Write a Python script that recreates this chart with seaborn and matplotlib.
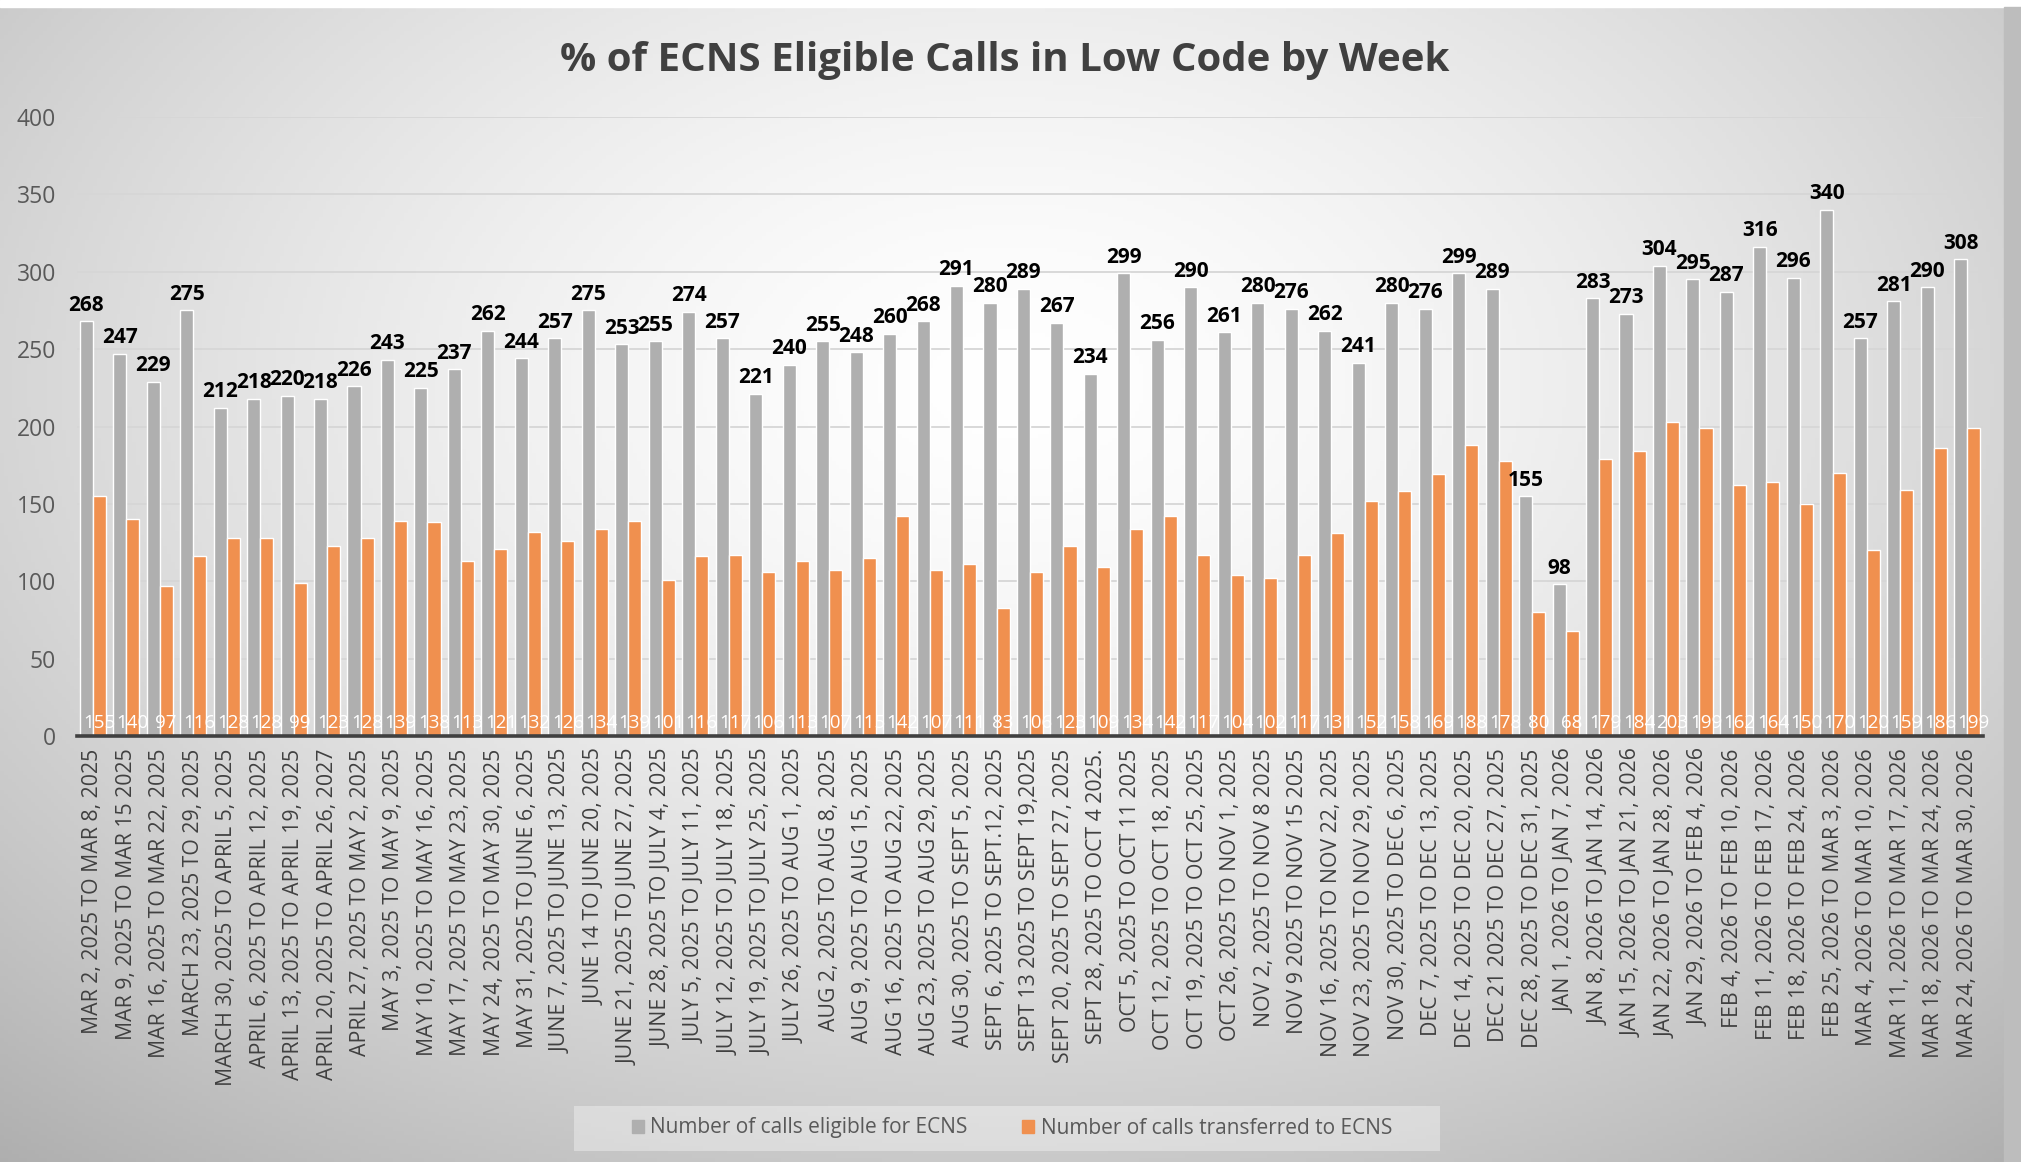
import numpy as np
import pandas as pd
import matplotlib
matplotlib.use("Agg")
import matplotlib.pyplot as plt
import seaborn as sns

weeks = [
    "MAR 2, 2025 TO MAR 8, 2025",
    "MAR 9, 2025 TO MAR 15 2025",
    "MAR 16, 2025 TO MAR 22, 2025",
    "MARCH 23, 2025 TO 29, 2025",
    "MARCH 30, 2025 TO APRIL 5, 2025",
    "APRIL 6, 2025 TO APRIL 12, 2025",
    "APRIL 13, 2025 TO APRIL 19, 2025",
    "APRIL 20, 2025 TO APRIL 26, 2027",
    "APRIL 27, 2025 TO MAY 2, 2025",
    "MAY 3, 2025 TO MAY 9, 2025",
    "MAY 10, 2025 TO MAY 16, 2025",
    "MAY 17, 2025 TO MAY 23, 2025",
    "MAY 24, 2025 TO MAY 30, 2025",
    "MAY 31, 2025 TO JUNE 6, 2025",
    "JUNE 7, 2025 TO JUNE 13, 2025",
    "JUNE 14 TO JUNE 20, 2025",
    "JUNE 21, 2025 TO JUNE 27, 2025",
    "JUNE 28, 2025 TO JULY 4, 2025",
    "JULY 5, 2025 TO JULY 11, 2025",
    "JULY 12, 2025 TO JULY 18, 2025",
    "JULY 19, 2025 TO JULY 25, 2025",
    "JULY 26, 2025 TO AUG 1, 2025",
    "AUG 2, 2025 TO AUG 8, 2025",
    "AUG 9, 2025 TO AUG 15, 2025",
    "AUG 16, 2025 TO AUG 22, 2025",
    "AUG 23, 2025 TO AUG 29, 2025",
    "AUG 30, 2025 TO SEPT 5, 2025",
    "SEPT 6, 2025 TO SEPT.12, 2025",
    "SEPT 13 2025 TO SEPT 19,2025",
    "SEPT 20, 2025 TO SEPT 27, 2025",
    "SEPT 28, 2025 TO OCT 4 2025.",
    "OCT 5, 2025 TO OCT 11 2025",
    "OCT 12, 2025 TO OCT 18, 2025",
    "OCT 19, 2025 TO OCT 25, 2025",
    "OCT 26, 2025 TO NOV 1, 2025",
    "NOV 2, 2025 TO NOV 8 2025",
    "NOV 9 2025 TO NOV 15 2025",
    "NOV 16, 2025 TO NOV 22, 2025",
    "NOV 23, 2025 TO NOV 29, 2025",
    "NOV 30, 2025 TO DEC 6, 2025",
    "DEC 7, 2025 TO DEC 13, 2025",
    "DEC 14, 2025 TO DEC 20, 2025",
    "DEC 21 2025 TO DEC 27, 2025",
    "DEC 28, 2025 TO DEC 31, 2025",
    "JAN 1, 2026 TO JAN 7, 2026",
    "JAN 8, 2026 TO JAN 14, 2026",
    "JAN 15, 2026 TO JAN 21, 2026",
    "JAN 22, 2026 TO JAN 28, 2026",
    "JAN 29, 2026 TO FEB 4, 2026",
    "FEB 4, 2026 TO FEB 10, 2026",
    "FEB 11, 2026 TO FEB 17, 2026",
    "FEB 18, 2026 TO FEB 24, 2026",
    "FEB 25, 2026 TO MAR 3, 2026",
    "MAR 4, 2026 TO MAR 10, 2026",
    "MAR 11, 2026 TO MAR 17, 2026",
    "MAR 18, 2026 TO MAR 24, 2026",
    "MAR 24, 2026 TO MAR 30, 2026",
]

eligible = [268, 247, 229, 275, 212, 218, 220, 218, 226, 243, 225, 237, 262, 244,
            257, 275, 253, 255, 274, 257, 221, 240, 255, 248, 260, 268, 291, 280,
            289, 267, 234, 299, 256, 290, 261, 280, 276, 262, 241, 280, 276, 299,
            289, 155, 98, 283, 273, 304, 295, 287, 316, 296, 340, 257, 281, 290, 308]

transferred = [155, 140, 97, 116, 128, 128, 99, 123, 128, 139, 138, 113, 121, 132,
               126, 134, 139, 101, 116, 117, 106, 113, 107, 115, 142, 107, 111, 83,
               106, 123, 109, 134, 142, 117, 104, 102, 117, 131, 152, 158, 169, 188,
               178, 80, 68, 179, 184, 203, 199, 162, 164, 150, 170, 120, 159, 186, 199]

series_names = ["Number of calls eligible for ECNS", "Number of calls transferred to ECNS"]
colors = ["#AFAFAF", "#F0904F"]
title = "% of ECNS Eligible Calls in Low Code by Week"

df = pd.DataFrame({
    "week": weeks * 2,
    "series": [series_names[0]] * len(weeks) + [series_names[1]] * len(weeks),
    "value": eligible + transferred,
})

sns.set_theme(style="white")
plt.rcParams["font.family"] = ["Open Sans", "DejaVu Sans"]

W, H = 2021, 1162
fig = plt.figure(figsize=(W / 100, H / 100), dpi=100)

# background radial gradient
bg = fig.add_axes([0, 0, 1, 1], zorder=-10)
yy, xx = np.mgrid[0:1:300j, 0:1:520j]
r = np.sqrt(((xx - 0.5) / 0.75) ** 2 + ((yy - 0.33) / 0.85) ** 2)
val = 1.0 - 0.30 * np.clip(r, 0, 1.2) ** 1.5
bg.imshow(np.dstack([val, val, val]), extent=[0, 1, 0, 1], aspect="auto", origin="upper")
bg.add_patch(plt.Rectangle((0, 1 - 7 / H), 1, 7 / H, color="white", transform=bg.transAxes))
bg.add_patch(plt.Rectangle((1 - 17 / W, 0), 17 / W, 1 - 7 / H, color="#BDBDBD", transform=bg.transAxes))
# legend backdrop
bg.add_patch(plt.Rectangle((574 / W, 1 - 1151 / H), (1440 - 574) / W, (1151 - 1106) / H,
                           facecolor="white", alpha=0.35, edgecolor="none",
                           transform=bg.transAxes))
bg.set_xlim(0, 1); bg.set_ylim(0, 1)
bg.axis("off")

ax = fig.add_axes([77 / W, 1 - 736 / H, (1983 - 77) / W, (736 - 117) / H])
ax.set_facecolor("none")

sns.barplot(data=df, x="week", y="value", hue="series", palette=colors,
            saturation=1, width=0.78, ax=ax, legend=False, zorder=3)

ax.set_ylim(0, 400)
ax.set_xlim(-0.47, len(weeks) - 0.53)
ax.set_yticks(range(0, 401, 50))
ax.yaxis.grid(True, color="#D6D6D6", linewidth=1.3, zorder=0)
ax.set_axisbelow(True)
for s in ["top", "right", "left"]:
    ax.spines[s].set_visible(False)
ax.spines["bottom"].set_color("#404040")
ax.spines["bottom"].set_linewidth(2.6)
ax.spines["bottom"].set_zorder(5)
ax.set_xlabel("")
ax.set_ylabel("")
ax.tick_params(axis="y", labelsize=16.5, labelcolor="#595959", pad=15, length=0)
ax.tick_params(axis="x", labelsize=15.3, labelcolor="#404040", pad=9, length=0)
plt.setp(ax.get_xticklabels(), rotation=90)

# value labels
grey_c, orange_c = ax.containers[0], ax.containers[1]
for rect, v in zip(grey_c, eligible):
    ax.annotate(str(v), (rect.get_x() + rect.get_width() / 2, rect.get_height()),
                xytext=(0, 4), textcoords="offset points", ha="center", va="bottom",
                fontsize=15, fontweight="bold", color="#000000", zorder=6)
for rect, v in zip(orange_c, transferred):
    ax.annotate(str(v), (rect.get_x() + rect.get_width() / 2, 0),
                xytext=(0, 3), textcoords="offset points", ha="center", va="bottom",
                fontsize=13.5, color="white", zorder=6)

fig.text(0.497, 1 - 60 / H, title, ha="center", va="center", fontsize=29,
         fontweight="bold", color="#404040")

handles = [plt.Rectangle((0, 0), 1, 1, color=c) for c in colors]
leg = fig.legend(handles, series_names, loc="center", bbox_to_anchor=(0.5006, 1 - 1128 / H),
                 ncol=2, frameon=False, fontsize=15, handlelength=0.6, handleheight=0.6,
                 handletextpad=0.3, columnspacing=2.6)
for t in leg.get_texts():
    t.set_color("#595959")

fig.savefig("out.png", dpi=100)
